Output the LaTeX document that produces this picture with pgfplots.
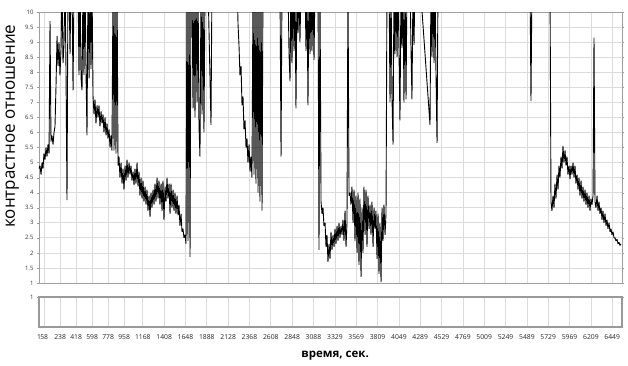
\documentclass[border=0pt]{standalone}
\usepackage{fontspec}
\setmainfont{Open Sans}
\usepackage{pgfplots}
\pgfplotsset{compat=1.18}
\usepackage{pgfplotstable}

\pgfplotstableread{
t v
0 4.8
11 4.9
23 4.6
34 5.0
45 4.8
56 5.3
68 5.1
79 5.5
90 5.2
101 5.6
113 5.3
124 9.7
135 5.7
146 5.9
158 5.6
169 6.0
180 6.2
191 7.5
203 9.2
214 8.2
225 9.0
236 7.9
248 8.8
259 11
270 8.3
281 8.9
293 11
304 8.0
315 3.75
326 11
338 11
349 8.6
360 11
371 11
383 7.4
394 11
439 11
450 7.9
461 11
473 7.8
484 7.4
495 11
506 7.9
518 11
529 8.0
540 5.9
551 11
563 7.8
574 11
585 8.1
596 11
608 7.2
619 6.6
630 7.1
641 6.3
653 6.9
664 6.5
675 6.9
686 6.2
698 6.7
709 6.3
720 6.6
731 6.0
743 6.5
754 5.9
765 6.3
776 5.8
788 6.1
799 5.5
810 5.9
821 5.4
833 11
844 5.4
855 11
866 5.3
878 11
889 4.9
900 5.2
911 4.5
923 5.0
934 4.3
945 4.8
956 4.1
968 4.9
979 4.4
990 5.1
1001 4.5
1013 5.0
1024 4.6
1035 4.9
1046 4.4
1058 4.7
1069 4.25
1080 4.8
1091 4.3
1103 5.0
1114 4.2
1125 4.7
1136 3.9
1148 4.5
1159 3.8
1170 4.4
1181 3.7
1193 4.2
1204 3.6
1215 4.1
1226 3.4
1238 3.9
1249 3.2
1260 4.0
1271 3.5
1283 4.1
1294 3.6
1305 4.3
1316 3.7
1328 4.5
1339 3.8
1350 4.4
1361 3.6
1373 4.3
1384 3.4
1395 4.4
1406 3.1
1418 4.2
1429 3.7
1440 4.5
1451 3.8
1463 4.3
1474 3.3
1485 4.3
1496 3.5
1508 4.1
1519 3.4
1530 4.0
1541 3.3
1553 3.9
1564 3.25
1575 3.6
1586 2.9
1598 3.3
1609 2.7
1620 2.8
1631 2.5
1643 2.6
1654 2.3
1665 11
1676 2.4
1688 11
1699 1.86
1710 11
1721 11
1733 6.8
1744 11
1755 6.5
1766 11
1778 7.0
1789 11
1800 6.2
1811 5.2
1823 11
1834 6.6
1845 11
1856 6.0
1868 11
1901 11
1935 6.25
1946 11
2093 11
2228 11
2239 9.6
2250 8.9
2261 7.9
2273 8.2
2284 6.9
2295 7.2
2306 6.1
2318 6.4
2329 5.5
2340 5.8
2351 5.0
2363 5.6
2374 4.7
2385 5.2
2396 4.5
2408 11
2419 4.6
2430 11
2441 4.3
2453 11
2464 4.0
2475 11
2486 3.7
2498 11
2509 3.4
2520 11
2599 11
2711 11
2723 5.2
2734 11
2801 11
2813 8.6
2824 7.7
2835 11
2846 8.3
2858 11
2869 8.7
2880 11
2891 6.8
2903 11
2914 9.3
2925 11
2936 9.0
2948 11
2993 11
3004 8.7
3015 11
3026 6.9
3038 11
3049 8.6
3060 11
3071 8.7
3083 11
3094 8.4
3105 11
3139 11
3150 2.1
3161 11
3173 3.7
3184 3.3
3195 3.5
3206 2.9
3218 3.0
3229 2.2
3240 2.6
3251 1.7
3263 2.3
3274 1.8
3285 2.7
3296 2.1
3308 2.6
3319 2.2
3330 2.8
3341 2.3
3353 2.9
3364 2.4
3375 3.0
3386 2.5
3398 2.9
3409 2.6
3420 3.1
3431 2.4
3443 3.4
3454 2.2
3465 3.0
3476 11
3488 3.9
3499 4.0
3510 3.6
3521 4.2
3533 3.0
3544 4.1
3555 2.4
3566 3.9
3578 2.0
3589 4.0
3600 1.6
3611 3.8
3623 1.2
3634 3.5
3645 2.0
3656 4.2
3668 2.6
3679 4.1
3690 2.2
3701 3.9
3713 2.8
3724 3.6
3735 2.6
3746 3.7
3758 2.2
3769 3.5
3780 2.8
3791 3.4
3803 1.8
3814 3.3
3825 1.3
3836 3.0
3848 1.03
3859 3.5
3870 2.4
3881 3.6
3893 2.6
3904 3.3
3915 11
3938 11
3949 7.0
3960 11
3971 7.2
3983 5.6
3994 11
4005 8.6
4016 11
4028 8.5
4039 11
4050 8.7
4061 6.4
4073 11
4084 8.8
4095 11
4106 7.0
4118 11
4129 7.1
4140 11
4174 11
4185 8.8
4196 7.1
4208 11
4219 8.9
4230 11
4286 11
4399 6.25
4410 11
4421 8.5
4433 11
4444 8.3
4455 11
4466 8.0
4478 5.65
4489 11
4624 11
5186 11
5524 11
5535 7.05
5546 11
5749 11
5760 3.7
5771 3.4
5783 3.9
5794 3.5
5805 4.3
5816 3.8
5828 4.6
5839 4.1
5850 4.9
5861 4.5
5873 5.2
5884 4.8
5895 5.55
5906 5.0
5918 5.4
5929 4.9
5940 5.2
5951 4.6
5963 4.9
5974 4.45
5985 4.9
5996 4.6
6008 5.0
6019 4.5
6030 4.9
6041 4.3
6053 4.6
6064 4.1
6075 4.5
6086 3.9
6098 4.4
6109 3.8
6120 4.2
6131 3.7
6143 4.1
6154 3.6
6165 4.0
6176 3.5
6188 3.9
6199 3.4
6210 3.8
6221 3.6
6233 3.9
6244 9.15
6255 3.7
6266 3.5
6278 3.9
6289 3.4
6300 3.7
6311 3.3
6323 3.5
6334 3.1
6345 3.4
6356 3.0
6368 3.3
6379 2.9
6390 3.1
6401 2.8
6413 3.0
6424 2.7
6435 2.8
6446 2.6
6458 2.7
6469 2.5
6480 2.5
6491 2.4
6503 2.45
6514 2.3
6525 2.35
6536 2.25
6548 2.3
}\datatable

\def\xt{1,58,238,418,598,778,958,1168,1408,1648,1888,2128,2368,2608,2848,3088,3329,3569,3809,4049,4289,4529,4769,5009,5249,5489,5729,5969,6209,6449}

\begin{document}
\begin{tikzpicture}[x=1pt,y=1pt]
\begin{axis}[
  at={(39pt,82pt)}, anchor=south west,
  scale only axis, width=583pt, height=271pt,
  xmin=0, xmax=6559, ymin=1, ymax=10,
  xtick/.expanded={\xt}, xticklabels={},
  ytick={1,1.5,2,2.5,3,3.5,4,4.5,5,5.5,6,6.5,7,7.5,8,8.5,9,9.5,10},
  yticklabel style={font=\fontsize{6}{6}\selectfont, text=black!80,
    /pgf/number format/.cd, fixed, precision=1, assume math mode=true},
  grid=major, grid style={gray!28, line width=0.7pt},
  axis line style={gray!75, line width=0.8pt},
  xtick style={draw=none},
  ytick style={gray!75}, major tick length=2pt, tick align=outside,
  ylabel={контрастное отношение},
  every axis y label/.style={at={(axis description cs:-0.046,0.579)}, rotate=90, anchor=center,
    font=\fontsize{17}{18}\selectfont},
]
\addplot[black, line width=0.9pt, line join=miter, miter limit=2] table[x=t, y=v] {\datatable};
\end{axis}

\begin{axis}[
  at={(39pt,38pt)}, anchor=south west,
  scale only axis, width=583pt, height=30pt,
  xmin=0, xmax=6559, ymin=0, ymax=1,
  xtick/.expanded={\xt},
  xticklabels={1,58,238,418,598,778,958,1168,1408,1648,1888,2128,2368,2608,2848,3088,3329,3569,3809,4049,4289,4529,4769,5009,5249,5489,5729,5969,6209,6449},
  xticklabel style={font=\fontsize{6.8}{7}\selectfont, text=black!85, yshift=-2pt, inner xsep=0pt},
  ytick={1}, yticklabels={1},
  yticklabel style={font=\fontsize{6}{6}\selectfont, text=black!80},
  xmajorgrids, grid style={gray!28, line width=0.7pt},
  axis line style={gray!80, line width=1.3pt},
  xtick style={draw=none},
  ytick style={gray!75}, major tick length=2pt, tick align=outside,
  xlabel={время, сек.},
  every axis x label/.style={at={(axis description cs:0.508,-0.97)}, anchor=center,
    font=\bfseries\fontsize{11.5}{12}\selectfont},
]
\addplot[draw=none] coordinates {(0,0.5)};
\end{axis}
\pgfresetboundingbox
\path[use as bounding box] (0,0) rectangle (628,365);
\end{tikzpicture}
\end{document}
